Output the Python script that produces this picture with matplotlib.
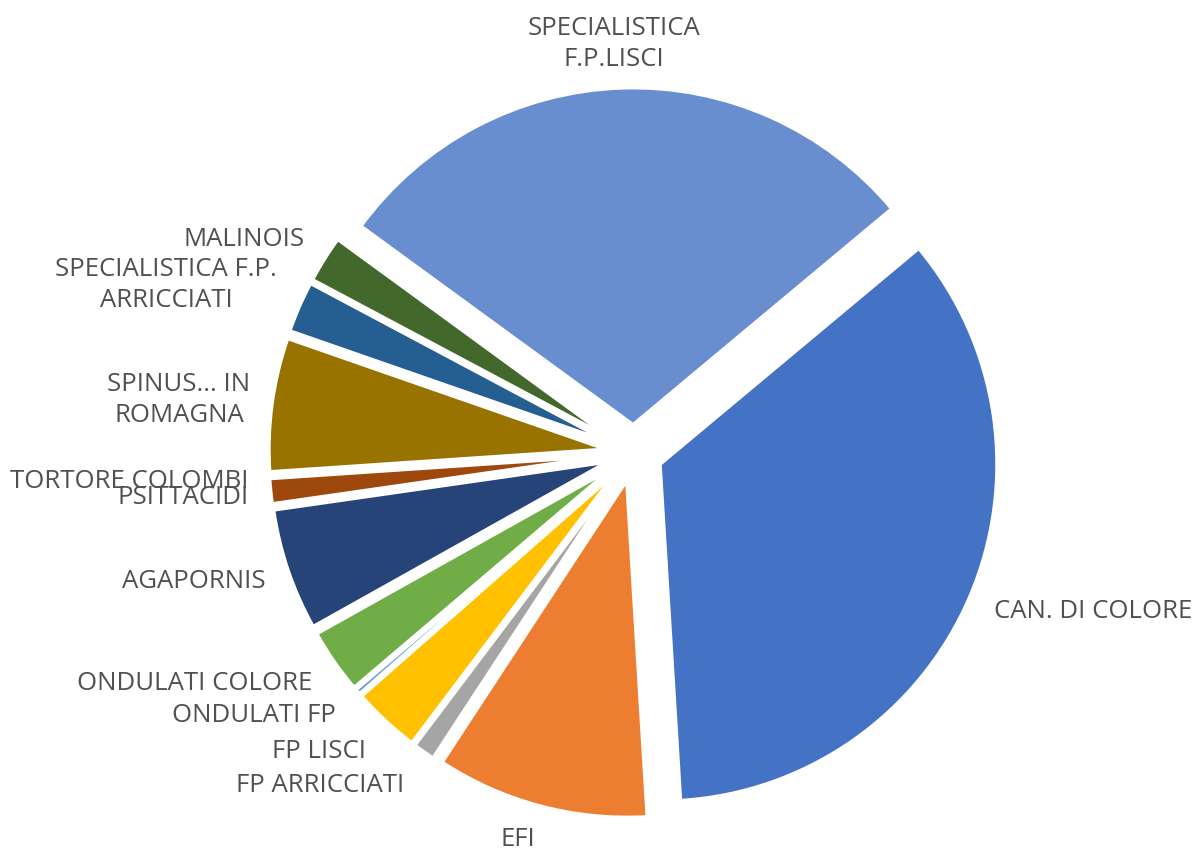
import matplotlib
matplotlib.use('Agg')
import matplotlib.pyplot as plt

# share of each category (%), clockwise from the first slice
categories = ['CAN. DI COLORE', 'EFI', 'FP ARRICCIATI', 'FP LISCI', 'ONDULATI FP',
              'ONDULATI COLORE', 'AGAPORNIS', 'PSITTACIDI', 'TORTORE COLOMBI',
              'SPINUS... IN ROMAGNA', 'SPECIALISTICA F.P. ARRICCIATI', 'MALINOIS',
              'SPECIALISTICA F.P.LISCI']
values = [35.1, 10.2, 1.05, 3.25, 0.25, 3.1, 5.85, 1.2, 0.0, 6.4, 2.45, 2.25, 28.9]
colors = ['#4472C4', '#ED7D31', '#A5A5A5', '#FFC000', '#5B9BD5', '#70AD47',
          '#264478', '#9E480E', '#636363', '#997300', '#255E91', '#43682B', '#698ED0']

# label text as shown (wrapped) and where it sits, in pixels from top-left
label_text = ['CAN. DI COLORE', 'EFI', 'FP ARRICCIATI', 'FP LISCI', 'ONDULATI FP',
              'ONDULATI COLORE', 'AGAPORNIS', 'PSITTACIDI', 'TORTORE COLOMBI',
              'SPINUS... IN\nROMAGNA', 'SPECIALISTICA F.P.\nARRICCIATI', 'MALINOIS',
              'SPECIALISTICA\nF.P.LISCI']
label_pos = [(1093, 612), (518, 840), (320, 785), (319, 752), (254, 716),
             (195, 683), (194, 582), (183, 498), (129, 482),
             (179, 400), (166, 285), (244, 239), (614, 44)]

W, H = 1198, 852
cx, cy, R = 634, 453, 337

fig = plt.figure(figsize=(W / 100, H / 100), dpi=100)
ax = fig.add_axes([0, 0, 1, 1])
ax.pie(values, colors=colors, startangle=39.85, counterclock=False,
       radius=1, center=(0, 0), explode=[0.084] * len(values),
       wedgeprops=dict(edgecolor='white', linewidth=2.5))
ax.set_xlim(-cx / R, (W - cx) / R)
ax.set_ylim(-(H - cy) / R, cy / R)
ax.set_aspect('equal')
ax.axis('off')

for txt, (x, y) in zip(label_text, label_pos):
    fig.text(x / W, 1 - y / H, txt, ha='center', va='center', fontsize=18.5,
             family='Open Sans', color='#505050', linespacing=1.35)

fig.savefig('out.png', dpi=100)
